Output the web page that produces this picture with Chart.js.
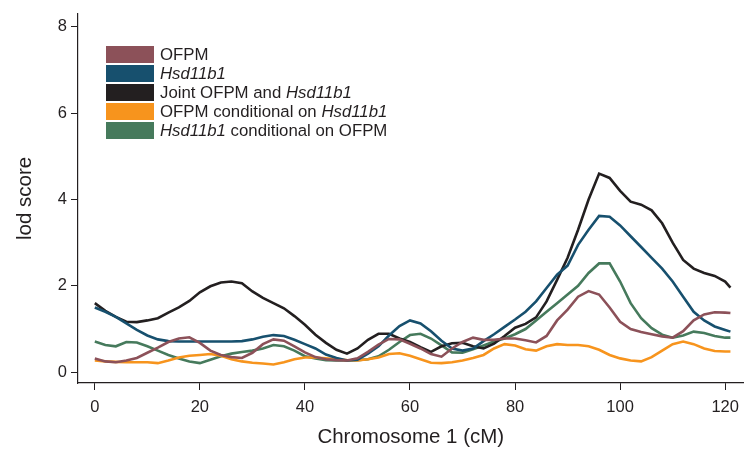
<!DOCTYPE html>
<html>
<head>
<meta charset="utf-8">
<script src="https://cdn.jsdelivr.net/npm/chart.js@4.4.1/dist/chart.umd.min.js"></script>
<style>
  html, body { margin: 0; padding: 0; background: #fff; }
  #wrap { position: relative; width: 747px; height: 451px; }
  #legend { position: absolute; left: 106px; top: 45px; font-family: "Liberation Sans", Arial, sans-serif; font-size: 16.8px; color: #231f20; }
  .row { display: flex; align-items: center; height: 19px; }
  .sw { width: 48px; height: 17px; margin-right: 6px; }
</style>
</head>
<body>
<div id="wrap">
  <canvas id="chart" width="747" height="451"></canvas>
  <div id="legend"></div>
</div>
<script>
// positions along chromosome 1 (cM)
const positions = [0,2,4,6,8,10,12,14,16,18,20,22,24,26,28,30,32,34,36,38,40,42,44,46,48,50,52,54,56,58,60,62,64,66,68,70,72,74,76,78,80,82,84,86,88,90,92,94,96,98,100,102,104,106,108,110,112,114,116,118,120,121]

const ofpm = [0.32,0.25,0.23,0.27,0.33,0.45,0.57,0.7,0.78,0.81,0.68,0.5,0.4,0.35,0.33,0.45,0.65,0.76,0.73,0.6,0.46,0.35,0.3,0.28,0.27,0.32,0.47,0.64,0.77,0.76,0.66,0.55,0.42,0.36,0.55,0.7,0.8,0.75,0.75,0.78,0.78,0.74,0.69,0.84,1.2,1.45,1.75,1.88,1.8,1.5,1.17,1.0,0.93,0.88,0.83,0.8,0.95,1.2,1.34,1.39,1.38,1.37]
const hsd = [1.5,1.4,1.28,1.13,0.98,0.85,0.76,0.72,0.71,0.71,0.71,0.71,0.71,0.71,0.72,0.76,0.82,0.86,0.84,0.75,0.65,0.55,0.41,0.33,0.27,0.29,0.43,0.6,0.85,1.07,1.2,1.13,0.95,0.73,0.55,0.5,0.55,0.72,0.88,1.05,1.22,1.4,1.64,1.95,2.26,2.47,2.95,3.3,3.62,3.6,3.4,3.15,2.9,2.65,2.4,2.1,1.75,1.4,1.2,1.06,0.98,0.94]
const joint = [1.6,1.42,1.28,1.17,1.16,1.2,1.25,1.38,1.5,1.65,1.85,1.99,2.08,2.1,2.06,1.87,1.72,1.6,1.48,1.3,1.1,0.87,0.68,0.52,0.43,0.55,0.75,0.89,0.89,0.78,0.7,0.58,0.47,0.6,0.67,0.68,0.6,0.55,0.66,0.84,1.03,1.12,1.27,1.64,2.14,2.65,3.3,4.0,4.6,4.5,4.2,3.95,3.88,3.75,3.45,3.0,2.6,2.4,2.3,2.23,2.1,1.96]
const ofpmCond = [0.27,0.25,0.24,0.23,0.23,0.23,0.21,0.27,0.34,0.38,0.4,0.42,0.38,0.3,0.25,0.22,0.2,0.18,0.23,0.3,0.34,0.34,0.32,0.3,0.28,0.27,0.3,0.34,0.42,0.44,0.38,0.3,0.22,0.21,0.23,0.27,0.33,0.4,0.55,0.65,0.62,0.53,0.5,0.6,0.65,0.63,0.63,0.6,0.52,0.4,0.32,0.27,0.25,0.35,0.5,0.65,0.71,0.65,0.55,0.49,0.48,0.48]
const hsdCond = [0.71,0.63,0.6,0.7,0.69,0.6,0.5,0.4,0.32,0.25,0.21,0.29,0.37,0.43,0.47,0.5,0.55,0.63,0.6,0.5,0.37,0.32,0.28,0.27,0.27,0.28,0.3,0.37,0.52,0.7,0.86,0.89,0.78,0.62,0.46,0.45,0.53,0.62,0.71,0.78,0.88,1.0,1.2,1.4,1.6,1.8,2.0,2.3,2.52,2.52,2.1,1.6,1.25,1.02,0.87,0.8,0.85,0.94,0.91,0.84,0.8,0.8]

const xTicks = [0, 20, 40, 60, 80, 100, 120]
const yTicks = [0, 2, 4, 6, 8]

// legend labels: [text, italic] pieces
const legendLabels = [
  [["OFPM", false]],
  [["Hsd11b1", true]],
  [["Joint OFPM and ", false], ["Hsd11b1", true]],
  [["OFPM conditional on ", false], ["Hsd11b1", true]],
  [["Hsd11b1", true], [" conditional on OFPM", false]],
]
const colors = ["#8c5159", "#17506e", "#231f20", "#f7941d", "#467a5c"]
const seriesValues = [ofpm, hsd, joint, ofpmCond, hsdCond]

const ink = "#231f20"
const font = "'Liberation Sans', Arial, sans-serif"

const datasets = seriesValues.map((vals, i) => ({
  label: legendLabels[i].map((p) => p[0]).join(""),
  data: vals.map((v, j) => ({ x: positions[j], y: v })),
  borderColor: colors[i],
  borderWidth: 2.6,
  pointRadius: 0,
  tension: 0,
  fill: false,
}))

new Chart(document.getElementById("chart"), {
  type: "line",
  data: { datasets },
  options: {
    responsive: false,
    animation: false,
    layout: { padding: { top: 8, right: 2, left: 0, bottom: 0 } },
    plugins: { legend: { display: false }, tooltip: { enabled: false } },
    scales: {
      x: {
        type: "linear",
        min: -3.2,
        max: 123.5,
        afterBuildTicks: (s) => { s.ticks = xTicks.map((v) => ({ value: v })) },
        afterFit: (s) => { s.height = 68 },
        grid: { drawOnChartArea: false, drawTicks: true, tickLength: 7, color: ink, lineWidth: 1 },
        border: { display: true, color: ink, width: 1.2 },
        ticks: { color: ink, font: { family: font, size: 16.5 }, padding: 8, maxRotation: 0 },
        title: { display: true, text: "Chromosome 1 (cM)", color: ink, font: { family: font, size: 20.5 }, padding: { top: 0, bottom: 1 } },
      },
      y: {
        type: "linear",
        min: -0.25,
        max: 8.3,
        afterBuildTicks: (s) => { s.ticks = yTicks.map((v) => ({ value: v })) },
        afterFit: (s) => { s.width = 78 },
        grid: { drawOnChartArea: false, drawTicks: true, tickLength: 7, color: ink, lineWidth: 1 },
        border: { display: true, color: ink, width: 1.2 },
        ticks: { color: ink, font: { family: font, size: 16.5 }, padding: 4 },
        title: { display: true, text: "lod score", color: ink, font: { family: font, size: 20.5 }, padding: { top: 13, bottom: 0 } },
      },
    },
  },
})

// html legend so the gene name can be set in italics
const legendEl = document.getElementById("legend")
legendLabels.forEach((parts, i) => {
  const row = document.createElement("div")
  row.className = "row"
  const sw = document.createElement("div")
  sw.className = "sw"
  sw.style.background = colors[i]
  row.appendChild(sw)
  const txt = document.createElement("span")
  parts.forEach(([t, it]) => {
    const s = document.createElement("span")
    s.textContent = t
    if (it) s.style.fontStyle = "italic"
    txt.appendChild(s)
  })
  row.appendChild(txt)
  legendEl.appendChild(row)
})
</script>
</body>
</html>
